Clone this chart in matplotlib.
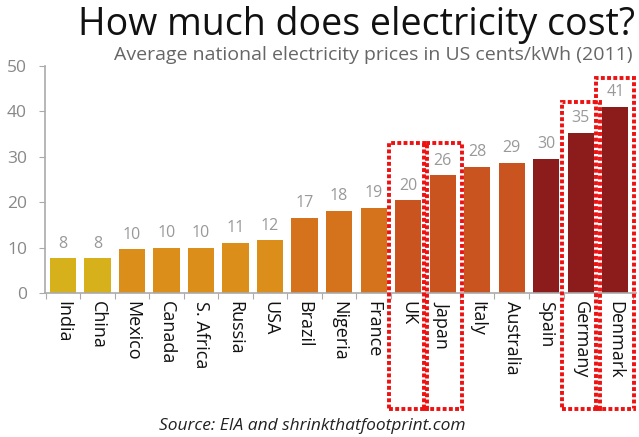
import matplotlib.pyplot as plt
from matplotlib.patches import Rectangle

plt.rcParams['font.family'] = ['Open Sans', 'DejaVu Sans']

countries = ['India', 'China', 'Mexico', 'Canada', 'S. Africa', 'Russia', 'USA',
             'Brazil', 'Nigeria', 'France', 'UK', 'Japan', 'Italy', 'Australia',
             'Spain', 'Germany', 'Denmark']
prices = [7.6, 7.6, 9.6, 10.0, 10.0, 11.0, 11.6,
          16.6, 18.1, 18.8, 20.4, 25.9, 27.8, 28.7,
          29.6, 35.2, 41.0]
colors = ['#D6B11B', '#D6B11B',
          '#DB8E1A', '#DB8E1A', '#DB8E1A', '#DB8E1A', '#DB8E1A',
          '#D5731C', '#D5731C', '#D5731C',
          '#CA541F', '#CA541F', '#CA541F', '#CA541F',
          '#8C1B1C', '#8C1B1C', '#8C1B1C']
# countries picked out with dotted boxes, and how far above the bar each box top sits
boxed = {'UK': 12.6, 'Japan': 7.1, 'Germany': 6.9, 'Denmark': 6.4}

fig = plt.figure(figsize=(6.39, 4.37), dpi=100)
ax = fig.add_axes([45 / 639, 1 - 293 / 437, 591 / 639, 227 / 437])

x = list(range(len(countries)))
ax.bar(x, prices, width=0.76, color=colors)
for i, v in enumerate(prices):
    ax.text(i, v + 1.5, f'{v:.0f}', ha='center', va='bottom', color='#999999', fontsize=11.5)

ax.set_xlim(-0.52, 16.6)
ax.set_ylim(0, 50)
ax.set_yticks(range(0, 51, 10))
ax.set_xticks([i - 0.5 for i in x] + [16.5])
ax.set_xticklabels([])
ax.set_xticks(x, minor=True)
ax.set_xticklabels(countries, minor=True, rotation=270, fontsize=13, color='#111111')
ax.tick_params(axis='x', which='minor', length=0, pad=6)
ax.tick_params(axis='x', which='major', length=4, color='#aaaaaa', direction='out')
ax.tick_params(axis='y', length=4, color='#aaaaaa', labelcolor='#888888', labelsize=12.5, pad=9)
for side in ['top', 'right']:
    ax.spines[side].set_visible(False)
for side in ['left', 'bottom']:
    ax.spines[side].set_color('#aaaaaa')
    ax.spines[side].set_linewidth(1.2)

for name, extra in boxed.items():
    i = countries.index(name)
    top = prices[i] + extra
    ax.add_patch(Rectangle((i - 0.55, -25.5), 1.1, top + 25.5, fill=False,
                           edgecolor='#EE1111', linewidth=2.8,
                           linestyle=(0, (1, 0.6)), clip_on=False, zorder=5))

fig.text(0.994, 1 - 35 / 437, 'How much does electricity cost?', ha='right', va='baseline',
         fontsize=27, color='#111111')
fig.text(0.99, 1 - 59.5 / 437, 'Average national electricity prices in US cents/kWh (2011)',
         ha='right', va='baseline', fontsize=14, color='#666666')
fig.text(0.488, 1 - 430 / 437, 'Source: EIA and shrinkthatfootprint.com', ha='center',
         va='baseline', fontsize=12.5, style='italic', color='#222222')

fig.savefig('out.png', dpi=100)
